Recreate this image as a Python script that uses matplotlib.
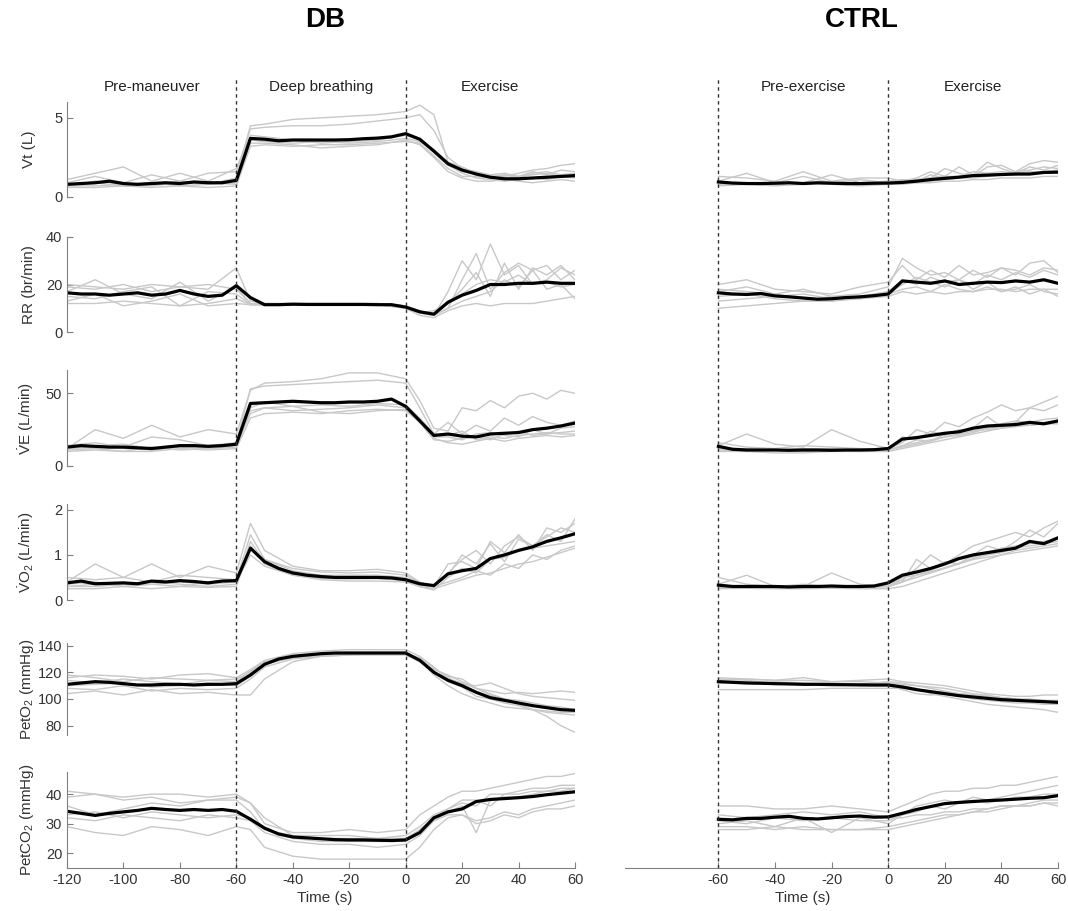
import numpy as np
import matplotlib
matplotlib.use("Agg")
import matplotlib.pyplot as plt
import matplotlib.transforms as mtransforms

plt.rcParams['font.family'] = ['Liberation Sans', 'DejaVu Sans']
plt.rcParams['mathtext.fontset'] = 'custom'
plt.rcParams['mathtext.rm'] = 'Liberation Sans'
plt.rcParams['mathtext.it'] = 'Liberation Sans'
plt.rcParams['mathtext.default'] = 'regular'
plt.rcParams['axes.unicode_minus'] = False

# ---------------- time bases
t_db = list(range(-120, 61, 5))
t_ctrl = list(range(-60, 61, 5))
t_db_ind = [-120, -110, -100, -90, -80, -70, -60, -55, -50, -40, -30, -20, -10,
            0, 5, 10, 15, 20, 25, 30, 35, 40, 45, 50, 55, 60]
t_ctrl_ind = [-60, -50, -40, -30, -20, -10, 0, 5, 10, 15, 20, 25, 30, 35, 40, 45, 50, 55, 60]

# ---------------- DB group means
db_vt_mean = [0.80, 0.85, 0.90, 1.00, 0.85, 0.80, 0.85, 0.90, 0.85, 0.95, 0.90, 0.90, 1.05,
              3.70, 3.65, 3.55, 3.60, 3.60, 3.60, 3.60, 3.62, 3.68, 3.72, 3.80, 4.00,
              3.65, 2.90, 2.10, 1.70, 1.45, 1.25, 1.15, 1.15, 1.20, 1.25, 1.30, 1.35]
db_rr_mean = [16.5, 16.0, 16.0, 15.5, 16.0, 16.5, 15.5, 16.0, 17.5, 16.0, 15.0, 15.5, 19.5,
              14.5, 11.5, 11.5, 11.7, 11.6, 11.6, 11.6, 11.6, 11.6, 11.5, 11.5, 10.5,
              8.5, 7.5, 12.5, 15.5, 17.5, 20.0, 20.0, 20.5, 20.5, 21.0, 20.5, 20.5]
db_ve_mean = [13, 14, 13.5, 13, 13, 12.5, 12, 13, 14, 14, 13.5, 14, 15,
              43, 43.5, 44, 44.5, 44, 43.5, 43.5, 44, 44, 44.5, 46, 41,
              31, 21, 22, 20.5, 20, 22, 22.5, 23, 25, 26, 27.5, 29.5]
db_vo2_mean = [0.38, 0.42, 0.36, 0.37, 0.38, 0.36, 0.42, 0.40, 0.43, 0.41, 0.38, 0.42, 0.43,
               1.15, 0.85, 0.70, 0.60, 0.55, 0.52, 0.50, 0.50, 0.50, 0.50, 0.49, 0.45,
               0.36, 0.32, 0.58, 0.65, 0.70, 0.92, 1.00, 1.10, 1.18, 1.30, 1.38, 1.47]
db_peto2_mean = [111, 112, 113, 112.5, 111.5, 110.5, 110.5, 111, 111, 110.5, 111, 111, 111.5,
                 118, 126, 130, 132, 133, 134, 134.5, 134.5, 134.5, 134.5, 134.5, 134.5,
                 129, 120, 114, 110, 105, 101, 99, 97, 95, 93.5, 92, 91.5]
db_petco2_mean = [34.2, 33.5, 32.8, 33.5, 34, 34.5, 35.2, 34.8, 34.5, 34.8, 34.5, 34.8, 34.2,
                  31.5, 28.5, 26.5, 25.5, 25.2, 24.9, 24.6, 24.5, 24.5, 24.4, 24.3, 24.5,
                  27, 32, 34, 35, 37.5, 38.2, 38.5, 38.8, 39.2, 39.8, 40.3, 40.8]

# ---------------- DB individual subjects
db_vt_ind = [
    [0.7, 1.0, 0.8, 0.7, 0.9, 0.8, 1.2, 4.5, 4.6, 4.9, 5.0, 5.1, 5.2, 5.4, 5.8, 5.2, 2.2, 1.9, 1.5, 1.3, 1.4, 1.2, 1.5, 1.6, 1.4, 1.5],
    [0.9, 1.3, 0.9, 1.4, 1.0, 1.5, 1.6, 4.3, 4.4, 4.5, 4.5, 4.6, 4.8, 5.0, 5.2, 4.2, 2.5, 1.8, 1.6, 1.4, 1.5, 1.3, 1.6, 1.4, 1.7, 1.6],
    [1.1, 1.5, 1.9, 1.0, 1.5, 1.0, 1.8, 3.9, 3.8, 3.6, 3.4, 3.5, 3.6, 3.9, 3.6, 2.8, 2.0, 1.5, 1.2, 1.1, 1.0, 1.1, 1.2, 1.1, 1.3, 1.2],
    [0.7, 0.7, 0.8, 0.9, 0.7, 0.8, 0.9, 3.4, 3.4, 3.3, 3.1, 3.2, 3.3, 3.6, 3.3, 2.5, 1.6, 1.2, 1.0, 1.0, 1.1, 1.0, 0.9, 1.0, 1.1, 1.0],
    [0.6, 0.6, 0.7, 0.6, 0.7, 0.6, 0.7, 3.2, 3.3, 3.2, 3.3, 3.3, 3.4, 3.5, 3.4, 2.6, 1.8, 1.3, 1.3, 1.2, 1.4, 1.3, 1.4, 1.5, 1.3, 1.4],
    [0.8, 0.9, 0.7, 0.8, 1.0, 0.9, 0.8, 3.6, 3.5, 3.4, 3.5, 3.4, 3.5, 3.7, 3.5, 3.0, 2.2, 1.6, 1.5, 1.2, 1.3, 1.5, 1.7, 1.8, 2.0, 2.1],
]
db_rr_ind = [
    [19, 18, 20, 17, 19, 18, 27, 13, 12, 12, 12, 12, 12, 11, 8, 7, 17, 30, 22, 37, 24, 28, 20, 22, 27, 24],
    [12, 12, 13, 12, 11, 12, 14, 11.5, 11.5, 11.5, 11.5, 11.5, 11.5, 11, 9, 7, 10, 22, 33, 18, 25, 29, 26, 28, 22, 26],
    [17, 22, 16, 14, 21, 13, 19, 12, 11.5, 11.5, 11.5, 11.5, 11.5, 10, 8, 9, 12, 18, 25, 15, 29, 18, 27, 24, 28, 22],
    [15, 14, 17, 19, 11, 17, 16, 11.5, 11.5, 11.5, 11.5, 11.5, 11.5, 10, 7, 6, 9, 11, 12, 11, 12, 12, 12, 13, 14, 15],
    [20, 19, 18, 20, 19, 20, 18, 12, 12, 12, 12, 12, 12, 11, 8, 8, 13, 16, 20, 22, 21, 24, 20, 21, 19, 20],
    [13, 16, 11, 13, 16, 11, 12, 11.5, 11.5, 11.5, 11.5, 11.5, 11.5, 11, 8, 7, 10, 13, 15, 17, 22, 19, 26, 18, 20, 14],
]
db_ve_ind = [
    [12, 25, 19, 28, 20, 25, 22, 52, 57, 58, 60, 64, 64, 60, 45, 26, 24, 40, 38, 45, 40, 48, 50, 46, 52, 50],
    [14, 16, 13, 20, 18, 14, 16, 53, 55, 56, 57, 58, 59, 57, 40, 22, 30, 22, 28, 24, 33, 28, 34, 30, 28, 31],
    [11, 12, 10, 13, 11, 12, 14, 38, 40, 38, 39, 40, 42, 40, 32, 20, 20, 18, 22, 23, 21, 20, 25, 22, 23, 24],
    [10, 11, 10, 10, 12, 11, 12, 33, 36, 37, 36, 38, 39, 38, 30, 18, 17, 19, 20, 18, 22, 24, 21, 22, 26, 27],
    [13, 14, 15, 12, 14, 13, 15, 36, 40, 41, 42, 41, 43, 42, 33, 22, 21, 24, 18, 20, 19, 21, 22, 23, 22, 22],
    [12, 13, 12, 11, 13, 12, 13, 40, 44, 41, 37, 36, 38, 39, 31, 19, 16, 15, 17, 19, 17, 19, 20, 21, 20, 21],
]
db_vo2_ind = [
    [0.40, 0.80, 0.50, 0.80, 0.50, 0.75, 0.60, 1.70, 1.10, 0.75, 0.65, 0.65, 0.68, 0.60, 0.40, 0.30, 0.80, 0.85, 0.70, 1.30, 1.05, 1.45, 1.10, 1.60, 1.50, 1.70],
    [0.30, 0.35, 0.30, 0.35, 0.30, 0.40, 0.45, 1.45, 0.90, 0.70, 0.62, 0.60, 0.62, 0.55, 0.38, 0.30, 0.55, 1.00, 0.80, 1.25, 0.85, 1.35, 1.20, 1.45, 1.30, 1.80],
    [0.30, 0.30, 0.35, 0.40, 0.35, 0.30, 0.35, 1.30, 0.85, 0.60, 0.50, 0.50, 0.50, 0.45, 0.32, 0.30, 0.40, 0.50, 0.65, 0.55, 0.80, 0.70, 1.00, 0.90, 1.10, 1.20],
    [0.25, 0.25, 0.30, 0.25, 0.30, 0.28, 0.30, 1.20, 0.80, 0.55, 0.45, 0.42, 0.42, 0.40, 0.30, 0.25, 0.35, 0.45, 0.55, 0.60, 0.70, 0.80, 0.85, 0.95, 1.05, 1.15],
    [0.50, 0.45, 0.50, 0.40, 0.55, 0.50, 0.45, 1.15, 0.90, 0.65, 0.55, 0.55, 0.55, 0.50, 0.35, 0.28, 0.60, 0.90, 1.10, 0.80, 1.20, 1.40, 1.20, 1.40, 1.60, 1.50],
    [0.35, 0.40, 0.30, 0.35, 0.40, 0.35, 0.40, 1.00, 0.75, 0.55, 0.48, 0.47, 0.48, 0.42, 0.30, 0.22, 0.50, 0.70, 0.60, 0.90, 0.95, 1.10, 1.15, 1.20, 1.25, 1.30],
]
db_peto2_ind = [
    [116, 118, 117, 115, 118, 119, 116, 122, 129, 134, 136, 137, 137, 137, 132, 124, 115, 112, 108, 106, 104, 105, 104, 105, 106, 105],
    [104, 106, 103, 107, 104, 105, 103, 103, 115, 128, 132, 133, 133, 133, 128, 122, 118, 113, 108, 104, 100, 96, 92, 87, 80, 75],
    [114, 112, 115, 113, 111, 114, 115, 120, 127, 131, 133, 134, 134, 134, 131, 123, 117, 115, 108, 103, 100, 99, 97, 95, 94, 92],
    [108, 107, 110, 106, 108, 107, 108, 115, 124, 130, 132, 133, 134, 134, 130, 121, 113, 109, 102, 100, 97, 95, 92, 90, 89, 88],
    [118, 116, 113, 116, 115, 114, 113, 121, 128, 132, 134, 135, 135, 135, 130, 120, 116, 111, 110, 112, 108, 104, 102, 101, 100, 99],
    [110, 111, 112, 109, 110, 112, 110, 117, 126, 131, 133, 134, 134, 134, 129, 118, 110, 104, 100, 97, 94, 93, 92, 91, 90, 90],
]
db_petco2_ind = [
    [41, 40, 39, 40, 40, 39, 40, 37, 30, 27, 27, 28, 27, 28, 33, 36, 39, 41, 41, 42, 43, 44, 45, 46, 46, 47],
    [29, 27, 26, 29, 28, 26, 29, 28, 22, 19, 18, 18, 18, 18, 22, 28, 32, 33, 31, 32, 34, 33, 35, 36, 37, 38],
    [36, 33, 35, 37, 36, 38, 39, 37, 32, 26, 25, 25, 25, 26, 29, 33, 35, 37, 36, 40, 40, 41, 42, 42, 43, 43],
    [32, 31, 33, 32, 31, 33, 32, 31, 27, 24, 23, 23, 22, 23, 26, 31, 34, 36, 27, 38, 39, 39, 40, 41, 41, 42],
    [39, 40, 38, 39, 37, 38, 38, 34, 28, 26, 26, 26, 25, 25, 28, 32, 35, 38, 38, 36, 40, 40, 41, 41, 42, 42],
    [33, 34, 32, 34, 33, 32, 33, 32, 28, 25, 24, 24, 24, 24, 27, 31, 33, 33, 30, 31, 33, 32, 34, 35, 35, 36],
]

# ---------------- CTRL group means
ctrl_vt_mean = [0.95, 0.88, 0.85, 0.85, 0.87, 0.90, 0.85, 0.90, 0.87, 0.85, 0.85, 0.87, 0.88,
                0.92, 1.00, 1.10, 1.18, 1.25, 1.35, 1.38, 1.42, 1.45, 1.45, 1.55, 1.57]
ctrl_rr_mean = [16.5, 16, 15.8, 16.2, 15.2, 14.8, 14.3, 13.8, 14.0, 14.5, 14.8, 15.3, 16.0,
                21.5, 21.0, 20.5, 21.5, 20.0, 20.5, 21.0, 20.8, 21.5, 21.0, 22.0, 20.5]
ctrl_ve_mean = [13.5, 11.5, 11, 11, 11, 10.8, 11, 11, 10.8, 11, 11, 11.2, 12,
                18.5, 19.5, 21, 22.5, 23.5, 26, 27.5, 28, 28.5, 30, 29, 31]
ctrl_vo2_mean = [0.33, 0.30, 0.30, 0.30, 0.30, 0.29, 0.30, 0.30, 0.31, 0.30, 0.30, 0.31, 0.38,
                 0.55, 0.62, 0.70, 0.80, 0.92, 1.00, 1.05, 1.10, 1.15, 1.30, 1.25, 1.38]
ctrl_peto2_mean = [113, 112.5, 112, 111.8, 111.5, 111.3, 111, 111, 110.8, 110.7, 110.6, 110.5, 110.5,
                   109, 107, 105.5, 104, 102.5, 101.5, 100.5, 99.5, 99, 98.5, 98, 97.5]
ctrl_petco2_mean = [31.5, 31.3, 31.8, 31.8, 32.2, 32.5, 31.8, 31.6, 32.0, 32.4, 32.6, 32.2, 32.3,
                    33.5, 34.8, 35.8, 36.8, 37.2, 37.5, 37.8, 38.0, 38.3, 38.6, 38.8, 39.5]

# ---------------- CTRL individual subjects
ctrl_vt_ind = [
    [1.0, 1.5, 0.9, 1.3, 0.9, 1.1, 0.9, 1.0, 1.2, 1.6, 1.3, 1.9, 1.4, 2.2, 1.8, 1.5, 1.9, 1.7, 2.0],
    [0.8, 0.9, 0.8, 0.9, 1.4, 0.9, 1.0, 1.1, 1.0, 1.4, 1.2, 1.3, 1.6, 1.5, 1.4, 1.6, 1.7, 1.9, 1.8],
    [1.3, 1.2, 1.0, 1.6, 1.0, 1.2, 1.2, 1.0, 1.1, 1.2, 1.8, 1.5, 1.3, 1.9, 2.0, 1.6, 2.1, 2.3, 2.2],
    [0.7, 0.8, 0.7, 0.8, 0.8, 0.7, 0.8, 0.8, 0.9, 0.9, 1.0, 1.0, 1.1, 1.1, 1.2, 1.2, 1.2, 1.3, 1.3],
    [0.9, 0.8, 0.9, 0.8, 0.9, 0.8, 0.9, 1.0, 1.1, 1.2, 1.3, 1.3, 1.4, 1.5, 1.6, 1.5, 1.6, 1.6, 1.7],
    [0.8, 0.9, 0.8, 0.9, 0.8, 0.8, 0.8, 0.9, 0.9, 1.0, 1.1, 1.2, 1.2, 1.3, 1.4, 1.4, 1.5, 1.5, 1.6],
]
ctrl_rr_ind = [
    [17, 19, 16, 18, 15, 16, 19, 31, 27, 24, 25, 22, 26, 23, 27, 24, 29, 30, 25],
    [20, 22, 18, 17, 16, 19, 21, 28, 22, 26, 23, 28, 24, 25, 27, 26, 24, 27, 26],
    [13, 14, 15, 16, 14, 15, 17, 22, 20, 23, 21, 22, 20, 24, 22, 25, 23, 26, 24],
    [10, 11, 12, 13, 13, 14, 15, 17, 16, 17, 16, 17, 17, 18, 18, 17, 18, 18, 18],
    [15, 16, 14, 13, 15, 14, 16, 18, 19, 17, 20, 18, 17, 19, 17, 18, 20, 17, 16],
    [18, 17, 16, 14, 13, 15, 16, 20, 23, 21, 19, 22, 18, 21, 17, 19, 16, 18, 15],
]
ctrl_ve_ind = [
    [14, 22, 15, 13, 25, 17, 12, 16, 25, 22, 30, 27, 33, 37, 42, 38, 40, 44, 48],
    [16, 13, 12, 14, 13, 12, 11, 14, 18, 17, 22, 24, 26, 34, 27, 30, 40, 38, 42],
    [12, 11, 11, 12, 11, 11, 12, 20, 18, 24, 21, 25, 24, 27, 29, 31, 30, 32, 33],
    [10, 10, 9, 9, 10, 10, 10, 12, 14, 16, 18, 20, 22, 24, 26, 27, 28, 29, 30],
    [11, 10, 11, 10, 11, 10, 11, 13, 15, 17, 20, 22, 24, 25, 26, 28, 28, 29, 29],
    [12, 12, 11, 11, 12, 11, 11, 14, 16, 18, 20, 21, 23, 26, 27, 28, 29, 30, 31],
]
ctrl_vo2_ind = [
    [0.35, 0.55, 0.30, 0.30, 0.60, 0.35, 0.30, 0.45, 0.70, 1.00, 0.80, 1.00, 1.20, 1.30, 1.40, 1.50, 1.40, 1.60, 1.75],
    [0.50, 0.35, 0.30, 0.35, 0.30, 0.30, 0.30, 0.40, 0.90, 0.70, 0.85, 0.80, 1.00, 1.20, 1.10, 1.30, 1.55, 1.40, 1.70],
    [0.30, 0.30, 0.28, 0.30, 0.30, 0.28, 0.30, 0.50, 0.55, 0.65, 0.80, 0.90, 0.95, 1.05, 1.15, 1.20, 1.25, 1.30, 1.35],
    [0.25, 0.26, 0.25, 0.25, 0.26, 0.25, 0.25, 0.30, 0.40, 0.50, 0.60, 0.70, 0.80, 0.90, 1.00, 1.05, 1.10, 1.15, 1.20],
    [0.30, 0.28, 0.30, 0.30, 0.28, 0.30, 0.30, 0.40, 0.50, 0.60, 0.70, 0.80, 0.90, 0.95, 1.00, 1.10, 1.15, 1.20, 1.25],
    [0.28, 0.30, 0.28, 0.29, 0.30, 0.29, 0.30, 0.40, 0.55, 0.62, 0.72, 0.82, 0.92, 1.00, 1.05, 1.15, 1.20, 1.25, 1.30],
]
ctrl_peto2_ind = [
    [114, 115, 114, 116, 113, 114, 115, 113, 112, 111, 110, 108, 106, 104, 103, 102, 102, 103, 103],
    [107, 107, 107, 107, 108, 108, 108, 108, 107, 106, 105, 104, 103, 102, 101, 100, 99, 98, 97],
    [115, 114, 112, 111, 112, 111, 113, 112, 110, 108, 106, 104, 103, 102, 101, 100, 100, 99, 99],
    [112, 113, 111, 111, 112, 110, 110, 107, 104, 103, 104, 102, 100, 99, 98, 97, 97, 96, 96],
    [116, 115, 114, 114, 113, 113, 112, 111, 110, 109, 108, 106, 104, 103, 101, 100, 99, 99, 98],
    [113, 112, 113, 112, 111, 111, 112, 110, 108, 104, 102, 100, 98, 96, 95, 94, 93, 92, 90],
]
ctrl_petco2_ind = [
    [36, 36, 35, 35, 36, 35, 34, 36, 38, 40, 41, 41, 42, 42, 43, 43, 44, 45, 46],
    [28, 28, 29, 28, 28, 28, 28, 29, 30, 31, 32, 33, 34, 35, 36, 36, 37, 38, 38],
    [30, 31, 29, 32, 27, 32, 30, 33, 34, 36, 35, 37, 38, 37, 38, 39, 39, 40, 40],
    [33, 32, 33, 34, 33, 34, 32, 32, 33, 33, 34, 34, 35, 35, 36, 36, 36, 37, 37],
    [31, 30, 32, 31, 32, 31, 31, 33, 36, 37, 38, 37, 39, 38, 39, 40, 41, 42, 43],
    [29, 29, 28, 29, 28, 28, 29, 30, 31, 32, 33, 33, 34, 34, 35, 36, 36, 37, 36],
]

ylabels = ["Vt (L)", "RR (br/min)", r"$\dot{V}$E (L/min)", r"$\dot{V}$O$_2$ (L/min)",
           "PetO$_2$ (mmHg)", "PetCO$_2$ (mmHg)"]
ylims = [(0, 6), (0, 40), (0, 66), (0, 2.13), (73, 142), (15, 47.5)]
yticks = [[0, 5], [0, 20, 40], [0, 50], [0, 1, 2], [80, 100, 120, 140], [20, 30, 40]]

db_means = [db_vt_mean, db_rr_mean, db_ve_mean, db_vo2_mean, db_peto2_mean, db_petco2_mean]
db_inds = [db_vt_ind, db_rr_ind, db_ve_ind, db_vo2_ind, db_peto2_ind, db_petco2_ind]
ctrl_means = [ctrl_vt_mean, ctrl_rr_mean, ctrl_ve_mean, ctrl_vo2_mean, ctrl_peto2_mean, ctrl_petco2_mean]
ctrl_inds = [ctrl_vt_ind, ctrl_rr_ind, ctrl_ve_ind, ctrl_vo2_ind, ctrl_peto2_ind, ctrl_petco2_ind]

# ---------------- layout (pixels)
W, H = 1068, 911
rows_px = [(102, 197), (237, 332), (370, 466), (504, 600), (643, 735), (772, 868)]
left_px = (67, 575)
right_px = (625, 1058)
spine_c = '#808080'
text_c = '#333333'
gray = '#c8c8c8'

fig = plt.figure(figsize=(W / 100, H / 100), dpi=100)


def make_ax(xpx, ypx):
    return fig.add_axes([xpx[0] / W, 1 - ypx[1] / H, (xpx[1] - xpx[0]) / W, (ypx[1] - ypx[0]) / H])


for i in range(6):
    last = (i == 5)
    # ---- DB
    ax = make_ax(left_px, rows_px[i])
    for s in db_inds[i]:
        ax.plot(t_db_ind, s, color=gray, lw=1.0)
    ax.plot(t_db, db_means[i], color='k', lw=2.3)
    ax.set_xlim(-120, 60)
    ax.set_ylim(*ylims[i])
    ax.set_yticks(yticks[i])
    ax.spines['top'].set_visible(False)
    ax.spines['right'].set_visible(False)
    ax.spines['left'].set_color(spine_c)
    ax.spines['bottom'].set_color(spine_c)
    ax.tick_params(direction='in', length=4, colors=spine_c, labelcolor=text_c, labelsize=10.5)
    ax.set_ylabel(ylabels[i], fontsize=11, color=text_c)
    ax.yaxis.set_label_coords(-0.062, 0.5)
    if last:
        ax.set_xticks(range(-120, 61, 20))
    else:
        ax.spines['bottom'].set_visible(False)
        ax.set_xticks([])
    ax.patch.set_visible(False)

    # ---- CTRL
    ax2 = make_ax(right_px, rows_px[i])
    for s in ctrl_inds[i]:
        ax2.plot(t_ctrl_ind, s, color=gray, lw=1.0)
    ax2.plot(t_ctrl, ctrl_means[i], color='k', lw=2.3)
    ax2.set_xlim(-93, 60)
    ax2.set_ylim(*ylims[i])
    for sp in ['top', 'right', 'left']:
        ax2.spines[sp].set_visible(False)
    ax2.set_yticks([])
    ax2.spines['bottom'].set_color(spine_c)
    ax2.tick_params(direction='in', length=4, colors=spine_c, labelcolor=text_c, labelsize=10.5)
    if last:
        ax2.set_xticks(range(-60, 61, 20))
    else:
        ax2.spines['bottom'].set_visible(False)
        ax2.set_xticks([])
    ax2.patch.set_visible(False)

# ---------------- phase dividers and labels
for xpx, xlim, marks, labels in [
        (left_px, (-120, 60), [-60, 0], [(-90, "Pre-maneuver"), (-30, "Deep breathing"), (30, "Exercise")]),
        (right_px, (-93, 60), [-60, 0], [(-30, "Pre-exercise"), (30, "Exercise")])]:
    ov = make_ax(xpx, (78, 868))
    ov.set_xlim(*xlim)
    ov.set_ylim(0, 1)
    ov.axis('off')
    for m in marks:
        ov.axvline(m, color='#333333', lw=1.0, linestyle=(0, (2.5, 2.5)))
    trans = mtransforms.blended_transform_factory(ov.transData, fig.transFigure)
    for x, lab in labels:
        ov.text(x, 1 - 87 / H, lab, transform=trans, ha='center', va='center',
                fontsize=11, color='#222222')

fig.text(325 / W, 1 - 20 / H, "DB", ha='center', va='center', fontsize=20, fontweight='bold')
fig.text(862 / W, 1 - 20 / H, "CTRL", ha='center', va='center', fontsize=20, fontweight='bold')
fig.text(325 / W, 1 - 898 / H, "Time (s)", ha='center', va='center', fontsize=11, color=text_c)
fig.text(803 / W, 1 - 898 / H, "Time (s)", ha='center', va='center', fontsize=11, color=text_c)

fig.savefig("out.png", dpi=100)
